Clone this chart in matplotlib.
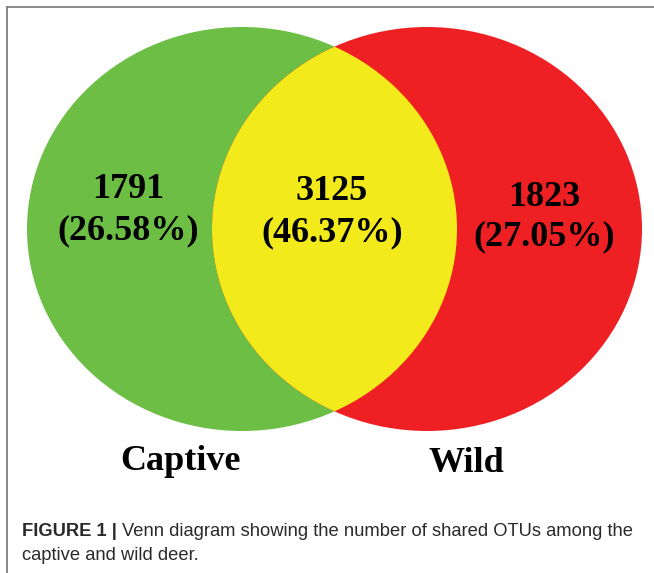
import matplotlib
matplotlib.use("Agg")
import matplotlib.pyplot as plt
from matplotlib.patches import Ellipse
from matplotlib.lines import Line2D

# data
groups = ["Captive", "Wild"]
unique_counts = [1791, 1823]
shared_count = 3125
unique_pcts = ["26.58%", "27.05%"]
shared_pct = "46.37%"
colors = {"left": "#6CBE45", "right": "#EE2024", "shared": "#F2EA1A"}
caption_bold = "FIGURE 1 | "
caption_line1 = "Venn diagram showing the number of shared OTUs among the"
caption_line2 = "captive and wild deer."

W, H = 654, 573
fig = plt.figure(figsize=(W / 100, H / 100), dpi=100)
ax = fig.add_axes([0, 0, 1, 1])
ax.set_xlim(0, W)
ax.set_ylim(H, 0)
ax.axis("off")

# frame (top + left)
fig.add_artist(Line2D([7 / W, 1], [1 - 7 / H, 1 - 7 / H], color="#7f7f7f", lw=1.3, transform=fig.transFigure))
fig.add_artist(Line2D([7 / W, 7 / W], [1 - 7 / H, 0], color="#7f7f7f", lw=1.3, transform=fig.transFigure))

# ellipses
cy, ew, eh = 229, 430, 404
cx_left, cx_right = 242, 427
left = Ellipse((cx_left, cy), ew, eh, facecolor=colors["left"], edgecolor="none")
right = Ellipse((cx_right, cy), ew, eh, facecolor=colors["right"], edgecolor="none")
ax.add_patch(left)
ax.add_patch(right)
shared = Ellipse((cx_right, cy), ew, eh, facecolor=colors["shared"], edgecolor="none")
ax.add_patch(shared)
clip = Ellipse((cx_left, cy), ew, eh, transform=ax.transData)
shared.set_clip_path(clip)

serif = dict(family="Liberation Serif", weight="bold", color="black", ha="center", va="center")
fs = 26
ax.text(128, 190, str(unique_counts[0]), fontsize=fs, **serif)
ax.text(128, 231, "(" + unique_pcts[0] + ")", fontsize=fs, **serif)
ax.text(332, 192, str(shared_count), fontsize=fs, **serif)
ax.text(332, 233, "(" + shared_pct + ")", fontsize=fs, **serif)
ax.text(544, 197, str(unique_counts[1]), fontsize=fs, **serif)
ax.text(544, 237, "(" + unique_pcts[1] + ")", fontsize=fs, **serif)

ax.text(180, 461, groups[0], fontsize=fs, **serif)
ax.text(466, 464, groups[1], fontsize=fs, **serif)

# caption
cap_fs = 13.2
cap_col = "#2a2a2a"
t1 = ax.text(22, 531, caption_bold, fontsize=cap_fs, family="Liberation Sans", weight="bold",
             color=cap_col, ha="left", va="center")
fig.canvas.draw()
bb = t1.get_window_extent(renderer=fig.canvas.get_renderer())
x_end = ax.transData.inverted().transform((bb.x1, bb.y0))[0]
ax.text(x_end, 531, caption_line1, fontsize=cap_fs, family="Liberation Sans",
        color=cap_col, ha="left", va="center")
ax.text(22, 555, caption_line2, fontsize=cap_fs, family="Liberation Sans",
        color=cap_col, ha="left", va="center")

fig.savefig("out.png", dpi=100)
